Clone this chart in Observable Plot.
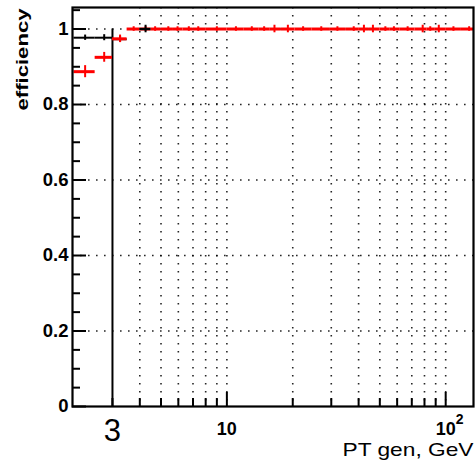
<!DOCTYPE html>
<html><head><meta charset="utf-8">
<script src="https://cdn.jsdelivr.net/npm/d3@7"></script>
<script src="https://cdn.jsdelivr.net/npm/@observablehq/plot@0.6"></script>
<style>body{margin:0;background:#fff} svg{display:block}</style>
</head><body><div id="chart"></div>
<script>
// Red series (bin centre, bin edges, efficiency, vertical error)
const redPt  = [2.25, 2.75, 3.25, 3.75, 4.25, 4.7, 5.4, 5.95, 6.7, 7.4, 9, 11, 13, 14.8, 16.5, 19, 22.3, 27, 32, 38, 42.3, 46.5, 53, 58, 67, 78.5, 85, 93, 108.5, 128];
const redLo  = [2, 2.5, 3, 3.5, 4, 4.5, 5, 5.7, 6.3, 7, 8, 10, 12, 14, 15.7, 17.7, 20.5, 24.5, 29.5, 35, 40, 44.5, 50, 55.5, 62, 72.5, 82, 89, 100, 118];
const redHi  = [2.5, 3, 3.5, 4, 4.5, 5, 5.7, 6.3, 7, 8, 10, 12, 14, 15.7, 17.7, 20.5, 24.5, 29.5, 35, 40, 44.5, 50, 55.5, 62, 72.5, 82, 89, 100, 118, 134];
const redEff = [0.887, 0.925, 0.974, 1, 1, 1, 1, 1, 1, 1, 1, 1, 1, 1, 1, 1, 1, 1, 1, 1, 1, 1, 1, 1, 1, 1, 1, 1, 1, 1];
const redErr = [0.016, 0.013, 0.01, 0.006, 0.006, 0.006, 0.006, 0.006, 0.006, 0.006, 0.006, 0.006, 0.006, 0.006, 0.01, 0.01, 0.006, 0.006, 0.006, 0.006, 0.01, 0.01, 0.006, 0.006, 0.006, 0.01, 0.006, 0.01, 0.006, 0.006];

// Black series
const blackPt  = [2.25, 2.75, 3.25, 4.25];
const blackLo  = [2, 2.5, 3, 4];
const blackHi  = [2.5, 3, 3.5, 4.5];
const blackEff = [0.977, 0.977, 0.973, 1.0];
const blackErr = [0.007, 0.008, 0.008, 0.01];

// Axes
const yMajor = [0, 0.2, 0.4, 0.6, 0.8, 1];
const yTickLabels = ["0", "0.2", "0.4", "0.6", "0.8", "1"];
const yMinor = [0.05, 0.1, 0.15, 0.25, 0.3, 0.35, 0.45, 0.5, 0.55, 0.65, 0.7, 0.75, 0.85, 0.9, 0.95, 1.05];
const yGrid = [0.2, 0.4, 0.6, 0.8, 1];
const xGrid = [4, 5, 6, 7, 8, 9, 10, 20, 30, 40, 50, 60, 70, 80, 90, 100];
const xMinor = [3, 4, 5, 6, 7, 8, 9, 20, 30, 40, 50, 60, 70, 80, 90];
const xMajor = [10, 100];
const xTickLabels = ["10", "10"];
const xTickExponents = ["", "2"];
const cutValue = [3];
const cutLabel = ["3"];
const xTitle = "PT gen, GeV";
const yTitle = "efficiency";

const red = redPt.map((x, i) => ({x, lo: redLo[i], hi: redHi[i], eff: redEff[i], err: redErr[i]}));
const black = blackPt.map((x, i) => ({x, lo: blackLo[i], hi: blackHi[i], eff: blackEff[i], err: blackErr[i]}));
const blackLow = black.slice(0, 3);
const blackHigh = black.slice(3);

const font = "'Liberation Sans', Arial, Helvetica, sans-serif";
const dot = {stroke: "#000", strokeOpacity: 0.85, strokeWidth: 1.6, strokeDasharray: "1.6,6.4"};

const errMarks = (data, color, w) => [
  Plot.ruleY(data, {y: "eff", x1: "lo", x2: "hi", stroke: color, strokeWidth: w}),
  Plot.ruleX(data, {x: "x", y1: d => d.eff - d.err, y2: d => d.eff + d.err, stroke: color, strokeWidth: 2})
];

const chart = Plot.plot({
  width: 476,
  height: 467,
  marginLeft: 72,
  marginRight: 3,
  marginTop: 7,
  marginBottom: 61,
  style: {fontFamily: font, background: "#fff", color: "#000"},
  x: {type: "log", domain: [1.97, 134]},
  y: {domain: [0, 1.057]},
  marks: [
    Plot.gridY(yGrid, dot),
    Plot.gridX(xGrid, dot),
    Plot.ruleX(cutValue, {x: d => d, y1: 0, y2: 1, stroke: "#000", strokeWidth: 2}),
    ...errMarks(blackLow, "#000", 2),
    ...errMarks(red, "#ff0000", 3),
    ...errMarks(blackHigh, "#000", 2.4),
    Plot.frame({stroke: "#000", strokeWidth: 2.2}),
    Plot.axisY(yMinor, {anchor: "left", tickSize: 8, dx: 8, tickFormat: () => "", label: null, strokeWidth: 2}),
    Plot.axisY(yMajor, {anchor: "left", tickSize: 14, dx: 14, tickFormat: () => "", label: null, strokeWidth: 2}),
    Plot.axisX(xMinor, {anchor: "bottom", tickSize: 8, dy: -8, tickFormat: () => "", label: null, strokeWidth: 2}),
    Plot.axisX(xMajor, {anchor: "bottom", tickSize: 14, dy: -14, tickFormat: () => "", label: null, strokeWidth: 2}),
    Plot.text(yMajor, {y: d => d, text: (d, i) => yTickLabels[i], frameAnchor: "left", textAnchor: "end", dx: -4, fontSize: 18.5, fontWeight: "bold", fill: "#000"}),
    Plot.text(xMajor, {x: d => d, text: (d, i) => xTickLabels[i], frameAnchor: "bottom", lineAnchor: "middle", dy: 23, dx: (0), fontSize: 18, fontWeight: "bold", fill: "#000"}),
    Plot.text(xMajor, {x: d => d, text: (d, i) => xTickExponents[i], frameAnchor: "bottom", lineAnchor: "middle", textAnchor: "start", dx: 10, dy: 13, fontSize: 14, fontWeight: "bold", fill: "#000"}),
    Plot.text(cutValue, {x: d => d, text: (d, i) => cutLabel[i], frameAnchor: "bottom", lineAnchor: "middle", dy: 25, fontSize: 31, fill: "#000"}),
    Plot.text([xTitle], {text: d => d, frameAnchor: "bottom-right", textAnchor: "end", lineAnchor: "middle", dy: 43, fontSize: 19, fill: "#000"}),
    Plot.text([yTitle], {text: d => d, frameAnchor: "top-left", rotate: -90, textAnchor: "end", lineAnchor: "middle", dx: -50, dy: 1, fontSize: 17, fontWeight: "bold", fill: "#000"})
  ]
});

d3.select(chart).selectAll("text").each(function() {
  const t = d3.select(this);
  if (t.text() === yTitle) t.attr("textLength", 102).attr("lengthAdjust", "spacingAndGlyphs");
  if (t.text() === xTitle) t.attr("textLength", 131).attr("lengthAdjust", "spacingAndGlyphs");
});

document.getElementById("chart").appendChild(chart);
</script>
</body></html>
